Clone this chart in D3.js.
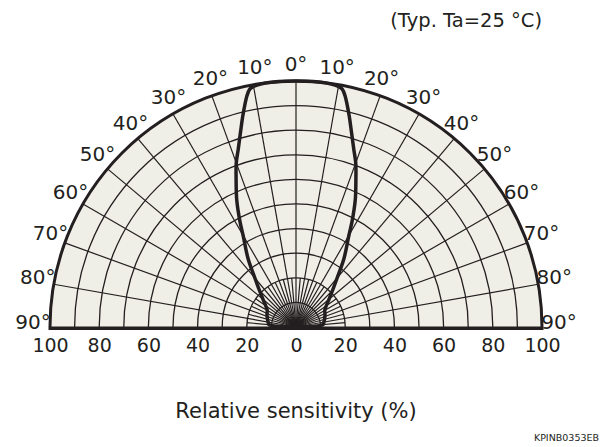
<!DOCTYPE html>
<html>
<head>
<meta charset="utf-8">
<script src="https://cdn.jsdelivr.net/npm/d3@7"></script>
<style>
  body { margin: 0; background: #fff; }
  text { font-family: "DejaVu Sans", Verdana, sans-serif; fill: #231f20; }
</style>
</head>
<body>
<div id="chart"></div>
<script>
const width = 616;
const height = 447;

// half-angle (deg) and relative sensitivity (%), mirrored for the other side
const angles = [0, 4, 8, 10, 11, 12, 14, 16, 18, 20, 22, 25, 28, 30, 35, 40, 45, 50, 55, 60, 65, 70, 75, 80, 85, 88, 90];
const sensitivity = [100, 100, 99.8, 99.3, 98.5, 96, 89, 82, 76, 71, 65, 57, 48.5, 43, 34, 26, 21, 17.5, 15, 13.5, 13, 12.5, 12, 11.5, 11, 8, 0];

const angleTicks = [0, 10, 20, 30, 40, 50, 60, 70, 80, 90];
const radiusTicks = [10, 20, 30, 40, 50, 60, 70, 80, 90, 100];
const xTicks = [-100, -80, -60, -40, -20, 0, 20, 40, 60, 80, 100];

const cx = 296;
const cy = 327;
const R = 246;
const ink = "#231f20";

const rScale = d3.scaleLinear().domain([0, 100]).range([0, R]);
const aScale = d3.scaleLinear().domain([-90, 90]).range([-Math.PI / 2, Math.PI / 2]);
const xScale = d3.scaleLinear().domain([-100, 100]).range([cx - R, cx + R]);

const svg = d3
  .select("#chart")
  .append("svg")
  .attr("width", width)
  .attr("height", height);

const g = svg.append("g").attr("transform", `translate(${cx},${cy})`);

// background half disk
const halfArc = (r0, r1) =>
  d3.arc()({ innerRadius: r0, outerRadius: r1, startAngle: -Math.PI / 2, endAngle: Math.PI / 2 });

g.append("path").attr("d", halfArc(0, R)).attr("fill", "#f0efe7");

// concentric arcs
g.selectAll(".ring")
  .data(radiusTicks.slice(0, -1))
  .enter()
  .append("path")
  .attr("class", "ring")
  .attr("d", (d) => halfArc(rScale(d), rScale(d)))
  .attr("fill", "none")
  .attr("stroke", ink)
  .attr("stroke-width", 1.3);

// spokes: every 10 deg full length, every 5 deg near the centre
const spokes = [];
for (let a = -90; a <= 90; a += 5) {
  spokes.push({ a: a, r: a % 10 === 0 ? 100 : 20 });
}
g.selectAll(".spoke")
  .data(spokes)
  .enter()
  .append("line")
  .attr("class", "spoke")
  .attr("x1", 0)
  .attr("y1", 0)
  .attr("x2", (d) => rScale(d.r) * Math.sin(aScale(d.a)))
  .attr("y2", (d) => -rScale(d.r) * Math.cos(aScale(d.a)))
  .attr("stroke", ink)
  .attr("stroke-width", 1.2);

// outer arc
g.append("path")
  .attr("d", halfArc(R, R))
  .attr("fill", "none")
  .attr("stroke", ink)
  .attr("stroke-width", 3);

// baseline
g.append("line")
  .attr("x1", -R - 1.5)
  .attr("x2", R + 1.5)
  .attr("y1", 1.5)
  .attr("y2", 1.5)
  .attr("stroke", ink)
  .attr("stroke-width", 3);

// directivity lobe
const lobe = [];
for (let i = angles.length - 1; i > 0; i--) lobe.push([-angles[i], sensitivity[i]]);
for (let i = 0; i < angles.length; i++) lobe.push([angles[i], sensitivity[i]]);

const line = d3
  .lineRadial()
  .angle((d) => aScale(d[0]))
  .radius((d) => rScale(d[1]))
  .curve(d3.curveCatmullRom);

g.append("path")
  .datum(lobe)
  .attr("d", line)
  .attr("fill", "none")
  .attr("stroke", ink)
  .attr("stroke-width", 3.5)
  .attr("stroke-linejoin", "round");

// angle labels
const angleLabels = [];
angleTicks.forEach((a) => {
  angleLabels.push(a);
  if (a !== 0) angleLabels.push(-a);
});
const labelR = R + 17;
const labelAngle = (d) => (d === 0 ? 0 : d - Math.sign(d));
g.selectAll(".alabel")
  .data(angleLabels)
  .enter()
  .append("text")
  .attr("class", "alabel")
  .attr("x", (d) => labelR * Math.sin(aScale(labelAngle(d))))
  .attr("y", (d) => -labelR * Math.cos(aScale(labelAngle(d))))
  .attr("text-anchor", "middle")
  .attr("dominant-baseline", "central")
  .attr("font-size", 20)
  .text((d) => Math.abs(d) + "°");

// x axis labels
const axis = d3
  .axisBottom(xScale)
  .tickValues(xTicks)
  .tickSize(0)
  .tickPadding(0)
  .tickFormat((d) => Math.abs(d));

const ax = svg.append("g").attr("transform", `translate(0,${cy + 25})`).call(axis);
ax.select(".domain").remove();
ax.selectAll("text")
  .attr("font-size", 19)
  .attr("font-family", "DejaVu Sans, Verdana, sans-serif")
  .attr("fill", ink)
  .attr("dy", "0");

svg.append("text")
  .attr("x", cx)
  .attr("y", 418)
  .attr("text-anchor", "middle")
  .attr("font-size", 21)
  .text("Relative sensitivity (%)");

svg.append("text")
  .attr("x", 542)
  .attr("y", 27)
  .attr("text-anchor", "end")
  .attr("font-size", 19.5)
  .text("(Typ. Ta=25 °C)");

svg.append("text")
  .attr("x", 599)
  .attr("y", 441)
  .attr("text-anchor", "end")
  .attr("font-size", 9.5)
  .text("KPINB0353EB");
</script>
</body>
</html>
